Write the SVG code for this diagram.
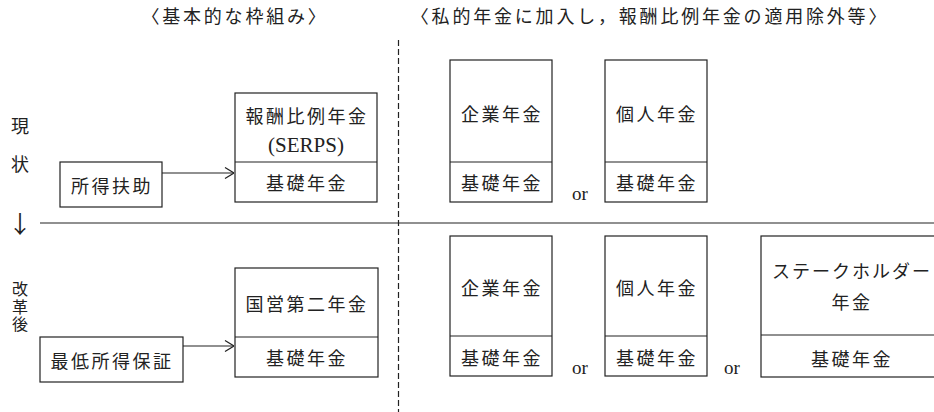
<svg xmlns="http://www.w3.org/2000/svg" width="934" height="412" viewBox="0 0 934 412">
<style>
.bx{fill:#fff;stroke:#222;stroke-width:1.2}
.ln{stroke:#222;stroke-width:1.2;fill:none}
.t{font-family:"Noto Sans CJK JP","Noto Sans CJK SC",sans-serif;font-size:18px;fill:#222;text-anchor:middle;dominant-baseline:central;letter-spacing:2.5px}
.h{font-family:"Noto Sans CJK JP","Noto Sans CJK SC",sans-serif;font-size:18px;fill:#222;text-anchor:middle;dominant-baseline:central;letter-spacing:2.8px}
.v{font-family:"Noto Sans CJK JP","Noto Sans CJK SC",sans-serif;font-size:18px;fill:#222;text-anchor:middle;dominant-baseline:central}
.s{font-family:"Liberation Serif",serif;font-size:21px;fill:#222;text-anchor:middle;dominant-baseline:central}
.or{font-family:"Liberation Serif",serif;font-size:19px;fill:#222;text-anchor:middle}
</style>
<defs>
<marker id="ah" viewBox="0 0 10 12" refX="10" refY="6" markerWidth="10" markerHeight="12" markerUnits="userSpaceOnUse" orient="auto">
<polyline points="1,0.5 10,6 1,11.5" fill="none" stroke="#222" stroke-width="1.2"/>
</marker>
</defs>
<rect width="934" height="412" fill="#fff"/>

<g id="headers">
<text class="h" x="235" y="15">〈基本的な枠組み〉</text>
<text class="h" x="650" y="15">〈私的年金に加入し，報酬比例年金の適用除外等〉</text>
</g>

<g id="side-labels">
<text class="v" x="20" y="125">現</text>
<text class="v" x="20" y="163">状</text>
<text class="v" x="20" y="222" style="font-family:'Noto Sans CJK JP',sans-serif;font-size:24px">↓</text>
<text class="v" x="20" y="281" writing-mode="vertical-rl" style="text-anchor:start;font-size:16px;letter-spacing:1.5px">改革後</text>
</g>

<g id="dividers">
<line class="ln" x1="398.5" y1="40" x2="398.5" y2="412" stroke-dasharray="6,3"/>
<line class="ln" x1="40" y1="223" x2="934" y2="223"/>
</g>

<g id="connectors">
<line class="ln" x1="162" y1="173" x2="234" y2="173" marker-end="url(#ah)"/>
<line class="ln" x1="183" y1="346" x2="234" y2="346" marker-end="url(#ah)"/>
</g>

<g id="n-shotoku-fujo">
<rect class="bx" x="60" y="162" width="102" height="45"/>
<text class="t" x="112" y="185">所得扶助</text>
</g>

<g id="n-serps">
<rect class="bx" x="235" y="93" width="142" height="109"/>
<line class="ln" x1="235" y1="162" x2="377" y2="162"/>
<text class="t" x="307" y="115">報酬比例年金</text>
<text class="s" x="306" y="145">(SERPS)</text>
<text class="t" x="307" y="182">基礎年金</text>
</g>

<g id="n-kigyo-1">
<rect class="bx" x="450" y="60" width="102" height="142"/>
<line class="ln" x1="450" y1="162" x2="552" y2="162"/>
<text class="t" x="502" y="113">企業年金</text>
<text class="t" x="502" y="182">基礎年金</text>
</g>

<text class="or" x="580" y="200">or</text>

<g id="n-kojin-1">
<rect class="bx" x="605" y="60" width="102" height="142"/>
<line class="ln" x1="605" y1="162" x2="707" y2="162"/>
<text class="t" x="657" y="113">個人年金</text>
<text class="t" x="657" y="182">基礎年金</text>
</g>

<g id="n-saitei">
<rect class="bx" x="40" y="337" width="143" height="45"/>
<text class="t" x="112" y="360">最低所得保証</text>
</g>

<g id="n-kokuei">
<rect class="bx" x="235" y="268" width="143" height="109"/>
<line class="ln" x1="235" y1="337" x2="378" y2="337"/>
<text class="t" x="307" y="303">国営第二年金</text>
<text class="t" x="307" y="357">基礎年金</text>
</g>

<g id="n-kigyo-2">
<rect class="bx" x="450" y="236" width="102" height="140"/>
<line class="ln" x1="450" y1="336" x2="552" y2="336"/>
<text class="t" x="502" y="287">企業年金</text>
<text class="t" x="502" y="357">基礎年金</text>
</g>

<text class="or" x="580" y="374">or</text>

<g id="n-kojin-2">
<rect class="bx" x="605" y="236" width="102" height="140"/>
<line class="ln" x1="605" y1="336" x2="707" y2="336"/>
<text class="t" x="657" y="287">個人年金</text>
<text class="t" x="657" y="357">基礎年金</text>
</g>

<text class="or" x="732" y="374">or</text>

<g id="n-stakeholder">
<rect class="bx" x="761" y="236" width="182" height="141"/>
<line class="ln" x1="761" y1="335" x2="943" y2="335"/>
<text class="t" x="852" y="270" style="letter-spacing:2px">ステークホルダー</text>
<text class="t" x="852" y="301">年金</text>
<text class="t" x="852" y="358">基礎年金</text>
</g>
</svg>
